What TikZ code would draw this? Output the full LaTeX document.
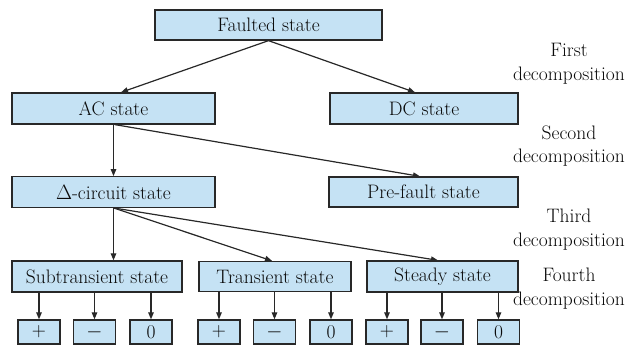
\documentclass[tikz,border=0pt]{standalone}
\usetikzlibrary{arrows.meta,calc}
\definecolor{boxfill}{RGB}{197,226,244}
\definecolor{edgecol}{RGB}{40,40,40}
\definecolor{txtcol}{RGB}{10,10,10}
\begin{document}
\begin{tikzpicture}[x=1pt,y=-1pt,
  box/.style={draw=edgecol, fill=boxfill, line width=1.3pt, inner sep=0pt,
    font=\fontsize{19.5}{23.5}\selectfont, text=txtcol},
  conn/.style={draw=edgecol, line width=1.2pt, -{Triangle[length=7pt,width=5.5pt]}},
  lab/.style={align=center, font=\fontsize{19.5}{23.5}\selectfont, text=txtcol, inner sep=0pt}]
\useasboundingbox (0,0) rectangle (633,345);
% level boxes
\node[box, minimum width=227pt, minimum height=30pt] (F) at (268.5,25) {Faulted state};
\node[box, minimum width=203pt, minimum height=31pt] (AC) at (113.5,108.5) {AC state};
\node[box, minimum width=188pt, minimum height=31pt] (DC) at (424,108.5) {DC state};
\node[box, minimum width=203pt, minimum height=30.5pt] (D) at (113.5,192) {$\Delta$-circuit state};
\node[box, minimum width=189pt, minimum height=30pt] (PF) at (423.5,192) {Pre-fault state};
\node[box, minimum width=170pt, minimum height=31pt] (ST) at (97,276.5) {Subtransient state};
\node[box, minimum width=152pt, minimum height=30pt] (TR) at (275,276.5) {Transient state};
\node[box, minimum width=151pt, minimum height=31pt] (SS) at (442.5,276.5) {Steady state};
% sequence boxes
\foreach \n/\x/\t in {a1/39/+, a2/94.5/{$-$}, a3/151/0,
                      b1/219/+, b2/274.5/{$-$}, b3/331/0,
                      c1/387/+, c2/442/{$-$}, c3/498.5/0}{
  \node[box, minimum width=42pt, minimum height=24pt] (\n) at (\x,332) {\t};
}
% connectors
\draw[conn] (F.south) -- ([xshift=7.5pt]AC.north);
\draw[conn] (F.south) -- ([xshift=-9pt]DC.north);
\draw[conn] (AC.south) -- (D.north);
\draw[conn] ([xshift=1.5pt]AC.south) -- ([xshift=-3.5pt]PF.north);
\draw[conn] (D.south) -- (D.south |- ST.north);
\draw[conn] (D.south) -- ([xshift=-3pt]TR.north);
\draw[conn] (D.south) -- ([xshift=-4.5pt]SS.north);
\foreach \p/\c in {ST/a1, ST/a2, ST/a3, TR/b1, TR/b2, TR/b3, SS/c1, SS/c2, SS/c3}{
  \draw[conn] (\c.north |- \p.south) -- (\c.north);
}
% labels
\node[lab] (L1) at (569,64) {First\\decomposition};
\node[lab] (L2) at (569,146) {Second\\decomposition};
\node[lab] (L3) at (569,229.5) {Third\\decomposition};
\node[lab] (L4) at (569,288.5) {Fourth\\decomposition};
\end{tikzpicture}
\end{document}
